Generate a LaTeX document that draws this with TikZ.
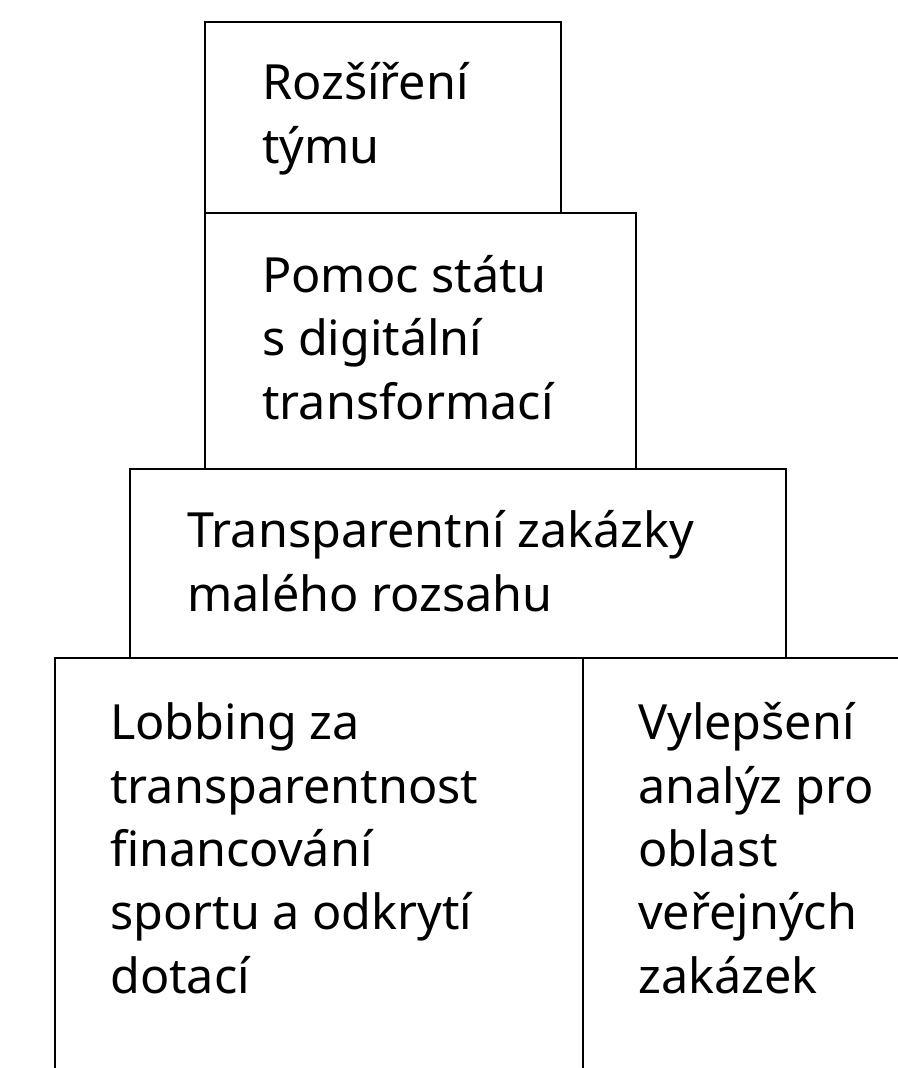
\documentclass[tikz,border=0pt]{standalone}
\usepackage{fontspec}
\setmainfont{Noto Sans}
\usetikzlibrary{calc,positioning}

\begin{document}
\begin{tikzpicture}[x=1pt, y=-1pt,
    txt/.style={anchor=base west, inner sep=0pt, align=left, font=\fontsize{48.5}{63.3}\selectfont},
    box/.style={line width=2.5pt, line cap=rect}]
                % Frame
                \useasboundingbox (0, 0) rectangle (897, 1068);

                % Corners
                \coordinate (t1) at (205, 22);
                \coordinate (t2) at (561, 213);
                \coordinate (s1) at (205, 213);
                \coordinate (s2) at (636, 469);
                \coordinate (m1) at (130, 469);
                \coordinate (m2) at (786, 658);
                \coordinate (b1) at (55, 658);
                \coordinate (b2) at (583, 658);
                \coordinate (b3) at (897, 658);

                \draw[box] (t1) rectangle (t2);
                \draw[box] (s1) rectangle (s2);
                \draw[box] (m1) rectangle (m2);
                \draw[box] (b1 |- 0, 1068) -- (b1) -- (b3);
                \draw[box] (b2) -- (b2 |- 0, 1068);

                % Texts (anchored at the baseline of the last line)
                \node[txt] at (262, 163) (tym) {Rozšíření\\týmu};
                \node[txt] at (262, 419) (stat) {Pomoc státu\\s digitální\\transformací};
                \node[txt] at (187, 611) (zakazky) {Transparentní zakázky\\malého rozsahu};
                \node[txt] at (110, 993) (lobbing) {Lobbing za\\transparentnost\\financování\\sportu a odkrytí\\dotací};
                \node[txt] at (638, 993) (analyzy) {Vylepšení\\analýz pro\\oblast\\veřejných\\zakázek};

            \end{tikzpicture}
\end{document}
